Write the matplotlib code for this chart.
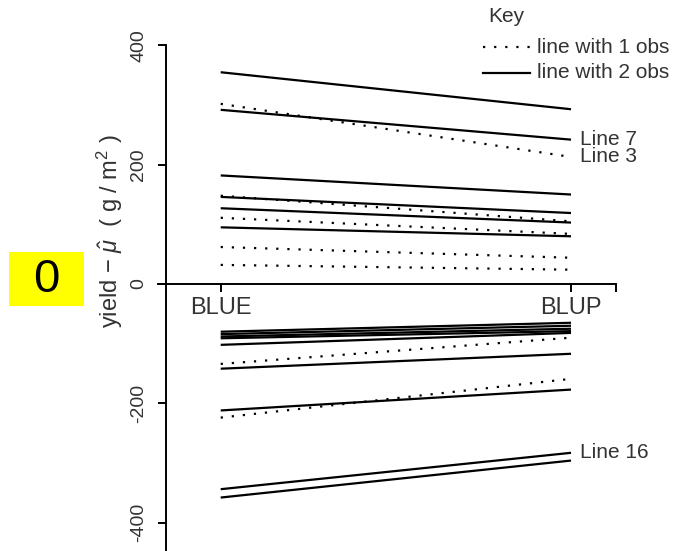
import matplotlib
matplotlib.use("Agg")
import matplotlib.pyplot as plt
from matplotlib.lines import Line2D
from matplotlib.patches import Rectangle

plt.rcParams['font.family'] = ['Liberation Sans', 'DejaVu Sans']
plt.rcParams['mathtext.fontset'] = 'custom'
plt.rcParams['mathtext.rm'] = 'Liberation Sans'
plt.rcParams['mathtext.it'] = 'Liberation Sans:italic'

# Estimates for each line: value at BLUE and value at BLUP
estimators = ["BLUE", "BLUP"]
blue_vals = [355, 292, 182, 146, 127, 95,
             -80, -84, -88, -91, -102, -142, -212, -344, -358,
             302, 148, 111, 62, 32, -134, -224]
blup_vals = [293, 242, 150, 119, 103, 80,
             -65, -70, -75, -79, -82, -117, -177, -283, -296,
             213, 105, 84, 44, 24, -90, -159]
n_obs = [2, 2, 2, 2, 2, 2,
         2, 2, 2, 2, 2, 2, 2, 2, 2,
         1, 1, 1, 1, 1, 1, 1]
line_names = ["", "Line 7", "", "", "", "",
              "", "", "", "", "", "", "", "Line 16", "",
              "Line 3", "", "", "", "", "", ""]
y_ticks = [-400, -200, 0, 200, 400]

W, H = 677, 551
fig = plt.figure(figsize=(W / 100, H / 100), dpi=100)
ax = fig.add_axes([0, 0, 1, 1])
ax.set_facecolor('white')

# pixel geometry of the plotting frame
x0_px, x1_px = 220.7, 571.0
zero_px, per_unit = 284.0, 0.5965


def xdata(px):
    return (px - x0_px) / (x1_px - x0_px)


def ydata(py):
    return (zero_px - py) / per_unit


ax.set_xlim(xdata(0), xdata(W))
ax.set_ylim(ydata(H), ydata(0))

dotted = (0, (1, 4))
for b, p, n in zip(blue_vals, blup_vals, n_obs):
    ax.plot([0, 1], [b, p], color='black', lw=1.6,
            linestyle='-' if n == 2 else dotted, solid_capstyle='butt')

txt = '#333333'
for name, p in zip(line_names, blup_vals):
    if name:
        ax.text(xdata(580), p, name, fontsize=15, color=txt,
                ha='left', va='center')

# axes: vertical spine with value ticks, horizontal line at zero
for s in ['top', 'right']:
    ax.spines[s].set_visible(False)
ax.spines['left'].set_position(('data', xdata(166)))
ax.spines['left'].set_bounds(ydata(H), 400)
ax.spines['bottom'].set_position(('data', 0))
ax.spines['bottom'].set_bounds(xdata(158), xdata(616))
for s in ['left', 'bottom']:
    ax.spines[s].set_linewidth(1.4)

ax.set_yticks(y_ticks)
ax.set_yticklabels([str(v) for v in y_ticks], rotation=90, va='center',
                   fontsize=14, color=txt)
ax.set_xticks([0, 1, xdata(616)])
ax.set_xticklabels(estimators + [""], fontsize=17, color=txt)
ax.tick_params(axis='both', direction='out', length=5.5, width=1.4)
ax.tick_params(axis='y', pad=8)
ax.tick_params(axis='x', pad=4)

ax.text(xdata(110), ydata(231),
        r'yield $-$ $\hat{\mu}$  ( g / m$^2$ )',
        rotation=90, ha='center', va='center', fontsize=17, color=txt)

# key
ax.text(xdata(488), ydata(17), 'Key', fontsize=15, color=txt,
        ha='left', va='center')
ax.add_line(Line2D([xdata(483), xdata(530)], [ydata(47), ydata(47)],
                   color='black', lw=1.6, linestyle=dotted))
ax.add_line(Line2D([xdata(483), xdata(530)], [ydata(73), ydata(73)],
                   color='black', lw=1.6))
ax.text(xdata(537), ydata(47), 'line with 1 obs', fontsize=15, color=txt,
        ha='left', va='center')
ax.text(xdata(537), ydata(73), 'line with 2 obs', fontsize=15, color=txt,
        ha='left', va='center')

# highlighted marker at the zero level
bx0, bx1, by0, by1 = 9, 84, 252, 306
ax.add_patch(Rectangle((xdata(bx0), ydata(by1)), xdata(bx1) - xdata(bx0),
                       ydata(by0) - ydata(by1), facecolor='#ffff00',
                       edgecolor='none', zorder=3))
ax.text(xdata((bx0 + bx1) / 2), ydata((by0 + by1) / 2 + 1), '0',
        fontsize=34, color='black', ha='center', va='center', zorder=4)

fig.savefig('out.png', dpi=100)
